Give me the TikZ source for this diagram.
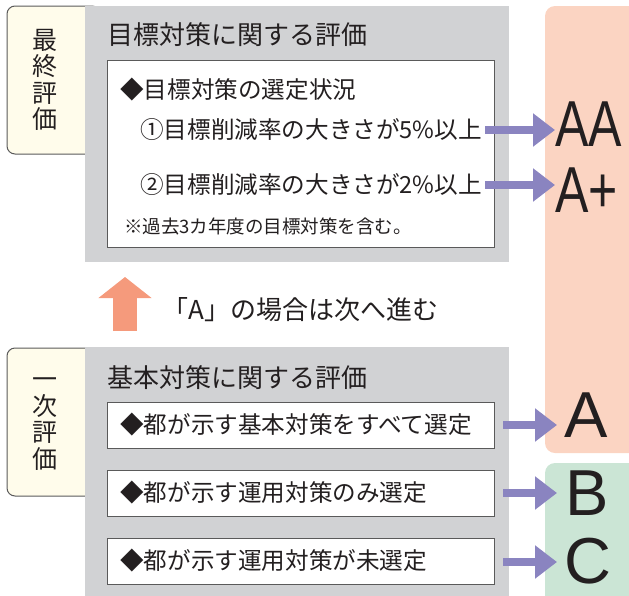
\documentclass[tikz,border=0pt]{standalone}
\usepackage{fontspec}
\usepackage{graphicx}
\setmainfont{Noto Sans CJK JP}
\newfontfamily\gradefont{Liberation Sans}
\usetikzlibrary{arrows.meta}
\definecolor{boxgray}{HTML}{D1D2D4}
\definecolor{tabcream}{HTML}{FFFCEB}
\definecolor{salmon}{HTML}{FBD4C2}
\definecolor{mint}{HTML}{CBE5D5}
\definecolor{violetarrow}{HTML}{8A84C0}
\definecolor{orangearrow}{HTML}{F59A7C}
\definecolor{inkc}{HTML}{231F20}
\definecolor{edgec}{HTML}{5A5A5A}
\tikzset{
  tabbox/.style={draw=edgec, line width=1pt, fill=tabcream, rounded corners=8pt},
  whitebox/.style={draw=edgec, line width=1pt, fill=white, anchor=north west, inner sep=0pt, minimum width=387pt},
  tabtext/.style={align=center, inner sep=0pt, text=inkc, font=\fontsize{25}{26.5}\selectfont},
  titletext/.style={anchor=west, inner sep=0pt, text=inkc, font=\fontsize{26}{30}\selectfont},
  bodytext/.style={anchor=west, inner sep=0pt, text=inkc, font=\fontsize{23.6}{28}\selectfont},
  notetext/.style={anchor=west, inner sep=0pt, text=inkc, font=\fontsize{18.5}{22}\selectfont},
  grade/.style={anchor=west, inner sep=0pt, text=inkc, font=\gradefont\fontsize{65}{70}\selectfont},
  parrow/.style={draw=violetarrow, line width=8pt, -{Triangle[length=22pt,width=32pt]}},
  uparrow/.style={draw=orangearrow, line width=24pt, -{Triangle[length=21pt,width=52pt]}}
}
\begin{document}
\begin{tikzpicture}[x=1pt,y=-1pt]
\useasboundingbox (0,0) rectangle (629,595);
\clip (0,0) rectangle (629,595);
% right grade panels
\fill[salmon, rounded corners=10pt] (545,6) rectangle (660,453);
\fill[mint, rounded corners=10pt] (545,463) rectangle (660,640);
% tabs
\draw[tabbox] (7,6) rectangle (100,154);
\draw[tabbox] (7,348) rectangle (100,496);
% gray panels
\fill[boxgray] (85,6) rectangle (509,262);
\fill[boxgray] (85,347) rectangle (509,640);
% tab labels
\node[tabtext] (tabfinal) at (45,80) {最\\終\\評\\価};
\node[tabtext] (tabfirst) at (45,424) {一\\次\\評\\価};
% top section
\node[titletext] (title1) at (107,35) {目標対策に関する評価};
\node[whitebox, minimum height=187pt] (wtop) at (107,60) {};
\node[bodytext] (sel) at (120,90) {◆目標対策の選定状況};
\node[bodytext] (c1) at (140,130) {①目標削減率の大きさが5\%以上};
\node[bodytext] (c2) at (140,185) {②目標削減率の大きさが2\%以上};
\node[notetext] (note) at (124,227) {※過去3カ年度の目標対策を含む。};
% middle
\coordinate (upb) at (125,331);
\coordinate (upt) at (125,277);
\draw[uparrow] (upb) -- (upt);
\node[titletext] (next) at (162,310) {「A」の場合は次へ進む};
% bottom section
\node[titletext] (title2) at (107,378) {基本対策に関する評価};
\node[whitebox, minimum height=46pt] (wb1) at (107,402) {};
\node[whitebox, minimum height=46pt] (wb2) at (107,470) {};
\node[whitebox, minimum height=46pt] (wb3) at (107,538) {};
\node[bodytext] (t1) at (120,425) {◆都が示す基本対策をすべて選定};
\node[bodytext] (t2) at (120,493) {◆都が示す運用対策のみ選定};
\node[bodytext] (t3) at (120,561) {◆都が示す運用対策が未選定};
% grades
\node[grade] (gAA) at (555,124) {\scalebox{0.77}[1]{AA}};
\node[grade] (gAp) at (555,190) {\scalebox{0.77}[1]{A+}};
\node[grade] (gA) at (564,415) {A};
\node[grade] (gB) at (565,493) {B};
\node[grade] (gC) at (564,561) {C};
% arrows
\coordinate (s1) at (485,130);
\coordinate (s2) at (485,185);
\coordinate (s3) at (503,425);
\coordinate (s4) at (503,493);
\coordinate (s5) at (503,562);
\coordinate (e3) at (557,425);
\coordinate (e4) at (557,493);
\coordinate (e5) at (557,562);
\draw[parrow] (s1) -- (s1 -| gAA.west);
\draw[parrow] (s2) -- (s2 -| gAp.west);
\draw[parrow] (s3) -- (e3);
\draw[parrow] (s4) -- (e4);
\draw[parrow] (s5) -- (e5);
\end{tikzpicture}
\end{document}
